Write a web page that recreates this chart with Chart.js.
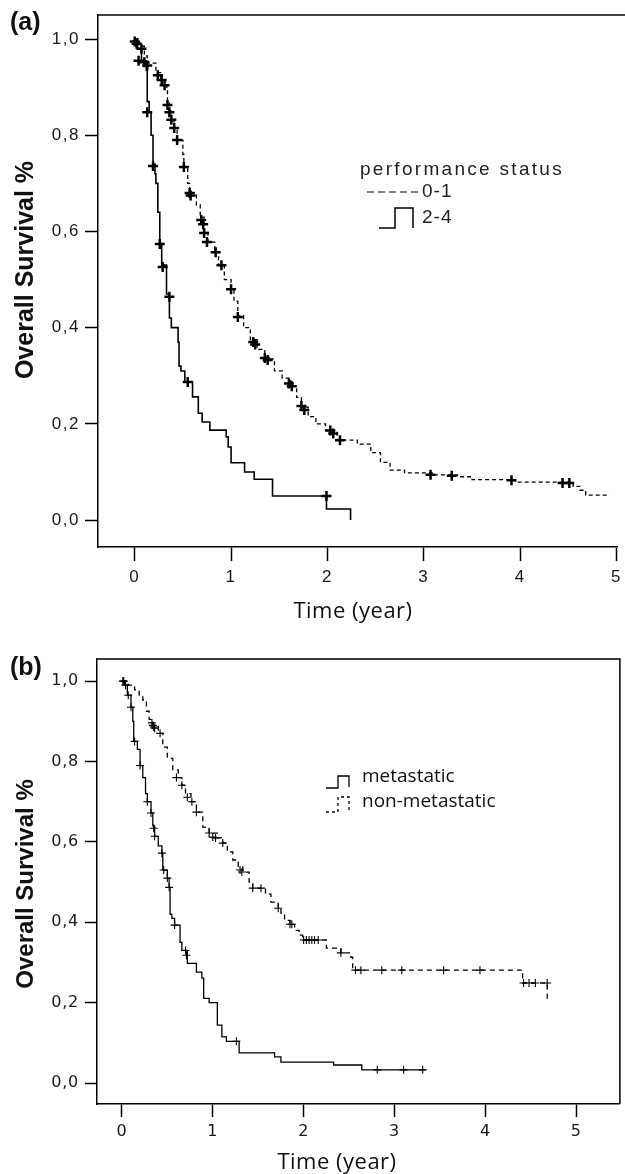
<!DOCTYPE html>
<html><head><meta charset="utf-8">
<script src="https://cdn.jsdelivr.net/npm/chart.js@4.4.1/dist/chart.umd.min.js"></script>
<style>
html,body{margin:0;padding:0;background:#fff;}
#wrapA{position:absolute;left:0;top:0;width:625px;height:640px;}
#wrapB{position:absolute;left:0;top:640px;width:625px;height:534px;}
canvas{display:block;}
</style></head><body>
<div id="wrapA"><canvas id="cA" width="625" height="640" style="width:625px;height:640px"></canvas></div>
<div id="wrapB"><canvas id="cB" width="625" height="534" style="width:625px;height:534px"></canvas></div>
<script>
// ---- shared tick labels ----
const yTickValues = [0, 0.2, 0.4, 0.6, 0.8, 1.0];
const yTickLabels = ['0,0', '0,2', '0,4', '0,6', '0,8', '1,0'];
const xTickValues = [0, 1, 2, 3, 4, 5];
const xTickLabels = ['0', '1', '2', '3', '4', '5'];

// ---- panel (a): performance status ----
const aLegendTitle = 'performance status';
const aSeriesNames = ['0-1', '2-4'];
const aPS01Time = [0, 0.05, 0.1, 0.13, 0.22, 0.27, 0.31, 0.34, 0.36, 0.38, 0.41, 0.44, 0.5, 0.51, 0.55, 0.57, 0.64, 0.68, 0.72, 0.76, 0.83, 0.87, 0.93, 1.0, 1.03, 1.07, 1.13, 1.2, 1.27, 1.35, 1.45, 1.53, 1.62, 1.68, 1.73, 1.8, 1.88, 1.98, 2.1, 2.31, 2.45, 2.55, 2.65, 2.8, 3.1, 3.35, 3.5, 3.95, 4.55, 4.62, 4.68, 4.93];
const aPS01Surv = [1.0, 0.985, 0.965, 0.95, 0.93, 0.915, 0.9, 0.87, 0.85, 0.83, 0.815, 0.79, 0.76, 0.734, 0.7, 0.68, 0.655, 0.63, 0.6, 0.578, 0.557, 0.53, 0.5, 0.48, 0.455, 0.425, 0.4, 0.375, 0.355, 0.335, 0.31, 0.295, 0.278, 0.255, 0.235, 0.215, 0.2, 0.186, 0.166, 0.158, 0.14, 0.12, 0.104, 0.098, 0.094, 0.09, 0.084, 0.079, 0.07, 0.062, 0.052, 0.052];
const aPS01CensTime = [0.02, 0.1, 0.13, 0.24, 0.28, 0.31, 0.34, 0.36, 0.38, 0.41, 0.44, 0.51, 0.57, 0.58, 0.69, 0.71, 0.72, 0.75, 0.84, 0.9, 1.0, 1.07, 1.23, 1.25, 1.35, 1.38, 1.6, 1.63, 1.73, 1.76, 2.03, 2.06, 2.13, 3.07, 3.29, 3.91, 4.44, 4.51];
const aPS01CensSurv = [0.99, 0.952, 0.945, 0.925, 0.915, 0.904, 0.863, 0.848, 0.832, 0.815, 0.79, 0.734, 0.68, 0.675, 0.624, 0.615, 0.597, 0.578, 0.557, 0.53, 0.48, 0.422, 0.37, 0.365, 0.337, 0.333, 0.284, 0.278, 0.237, 0.229, 0.186, 0.18, 0.166, 0.094, 0.092, 0.083, 0.077, 0.077];
const aPS24Time = [0, 0.03, 0.07, 0.12, 0.13, 0.15, 0.17, 0.19, 0.21, 0.22, 0.24, 0.26, 0.28, 0.33, 0.36, 0.38, 0.45, 0.46, 0.48, 0.52, 0.6, 0.66, 0.7, 0.78, 0.95, 0.97, 1.0, 1.14, 1.24, 1.43, 1.99, 2.24];
const aPS24Surv = [1.0, 0.98, 0.955, 0.935, 0.87, 0.848, 0.8, 0.74, 0.72, 0.7, 0.64, 0.575, 0.53, 0.47, 0.42, 0.4, 0.37, 0.32, 0.31, 0.287, 0.256, 0.222, 0.204, 0.187, 0.173, 0.152, 0.119, 0.1, 0.085, 0.05, 0.023, 0.0];
const aPS24CensTime = [0.0, 0.07, 0.04, 0.13, 0.19, 0.26, 0.29, 0.36, 0.55, 1.99];
const aPS24CensSurv = [0.995, 0.98, 0.955, 0.848, 0.736, 0.574, 0.526, 0.464, 0.287, 0.05];

// ---- panel (b): metastatic status ----
const bSeriesNames = ['metastatic', 'non-metastatic'];
const bMetTime = [0, 0.03, 0.06, 0.1, 0.12, 0.13, 0.17, 0.2, 0.23, 0.26, 0.28, 0.32, 0.34, 0.36, 0.4, 0.44, 0.45, 0.5, 0.52, 0.53, 0.55, 0.58, 0.64, 0.66, 0.72, 0.82, 0.88, 0.9, 0.96, 1.05, 1.1, 1.15, 1.29, 1.68, 1.75, 2.33, 2.64, 3.34];
const bMetSurv = [1.0, 0.99, 0.965, 0.935, 0.9, 0.85, 0.83, 0.79, 0.76, 0.72, 0.7, 0.672, 0.64, 0.614, 0.59, 0.572, 0.53, 0.51, 0.487, 0.42, 0.41, 0.393, 0.35, 0.33, 0.298, 0.276, 0.261, 0.211, 0.2, 0.144, 0.115, 0.104, 0.075, 0.065, 0.052, 0.045, 0.033, 0.033];
const bMetCensTime = [0.01, 0.04, 0.07, 0.1, 0.14, 0.2, 0.28, 0.32, 0.35, 0.36, 0.44, 0.46, 0.5, 0.52, 0.58, 0.7, 0.71, 1.26, 2.81, 3.1, 3.31];
const bMetCensSurv = [1.0, 0.99, 0.965, 0.935, 0.85, 0.79, 0.7, 0.672, 0.634, 0.614, 0.572, 0.53, 0.51, 0.487, 0.393, 0.33, 0.318, 0.104, 0.033, 0.033, 0.033];
const bNonTime = [0, 0.07, 0.14, 0.19, 0.23, 0.27, 0.3, 0.34, 0.4, 0.45, 0.5, 0.56, 0.62, 0.66, 0.7, 0.76, 0.82, 0.89, 0.96, 1.05, 1.11, 1.16, 1.22, 1.28, 1.33, 1.4, 1.44, 1.58, 1.64, 1.72, 1.75, 1.79, 1.85, 1.9, 1.95, 1.99, 2.25, 2.41, 2.52, 2.54, 4.41, 4.68];
const bNonSurv = [1.0, 0.99, 0.978, 0.965, 0.953, 0.925, 0.905, 0.89, 0.87, 0.836, 0.808, 0.779, 0.76, 0.741, 0.72, 0.7, 0.674, 0.637, 0.622, 0.61, 0.597, 0.575, 0.555, 0.54, 0.525, 0.5, 0.485, 0.47, 0.45, 0.435, 0.423, 0.405, 0.395, 0.38, 0.368, 0.356, 0.336, 0.324, 0.313, 0.281, 0.249, 0.2];
const bNonCensTime = [0.02, 0.33, 0.34, 0.35, 0.36, 0.42, 0.6, 0.66, 0.72, 0.77, 0.82, 0.96, 1.0, 1.03, 1.11, 1.3, 1.32, 1.44, 1.53, 1.72, 1.85, 1.87, 2.0, 2.03, 2.06, 2.09, 2.12, 2.16, 2.41, 2.57, 2.63, 2.86, 3.08, 3.54, 3.94, 4.42, 4.48, 4.55, 4.68];
const bNonCensSurv = [1.0, 0.896, 0.89, 0.886, 0.883, 0.87, 0.76, 0.741, 0.711, 0.7, 0.674, 0.622, 0.612, 0.61, 0.597, 0.53, 0.525, 0.485, 0.485, 0.435, 0.395, 0.395, 0.356, 0.356, 0.356, 0.356, 0.356, 0.356, 0.324, 0.281, 0.281, 0.281, 0.281, 0.281, 0.281, 0.249, 0.249, 0.249, 0.249];

const yAxisTitle = 'Overall Survival %';
const xAxisTitle = 'Time (year)';

function pts(ts, ss) { return ts.map((t, i) => ({x: t, y: ss[i]})); }

// ---- decoration plugin: frame lines, titles, custom legend ----
const decor = {
  id: 'decor',
  beforeDraw(chart, args, o) {
    chart.ctx.letterSpacing = o.tickSpacing || '0px';
  },
  beforeDatasetsDraw(chart, args, o) {
    const ctx = chart.ctx, a = chart.chartArea;
    ctx.save();
    ctx.letterSpacing = '0px';
    ctx.strokeStyle = '#000';
    ctx.lineWidth = 1.5;
    ctx.beginPath();
    ctx.moveTo(a.left, a.top);
    ctx.lineTo(o.topToEdge ? chart.width : a.right, a.top);
    if (o.frameRight) { ctx.lineTo(a.right, a.bottom); }
    ctx.stroke();
    ctx.restore();
  },
  afterDraw(chart, args, o) {
    const ctx = chart.ctx;
    ctx.save();
    (o.icons || []).forEach(ic => {
      ctx.save();
      ctx.strokeStyle = '#000';
      ctx.lineWidth = ic.width || 1.3;
      ctx.setLineDash(ic.dash || []);
      ctx.beginPath();
      ic.pts.forEach((p, i) => i ? ctx.lineTo(p[0], p[1]) : ctx.moveTo(p[0], p[1]));
      ctx.stroke();
      ctx.restore();
    });
    (o.texts || []).forEach(t => {
      ctx.save();
      ctx.letterSpacing = t.spacing || '0px';
      ctx.font = t.font;
      ctx.fillStyle = t.color || '#111';
      ctx.textAlign = t.align || 'left';
      ctx.textBaseline = 'alphabetic';
      ctx.translate(t.x, t.y);
      if (t.rotate) ctx.rotate(t.rotate);
      ctx.fillText(t.text, 0, 0);
      ctx.restore();
    });
    ctx.restore();
    ctx.letterSpacing = '0px';
  }
};

function axisCfg(kind, min, max, size, font, pad, tickLen) {
  const isX = kind === 'x';
  const vals = isX ? xTickValues : yTickValues;
  const labs = isX ? xTickLabels : yTickLabels;
  return {
    type: 'linear', min: min, max: max,
    afterBuildTicks: s => { s.ticks = vals.map(v => ({value: v})); },
    afterFit: s => {
      if (isX) s.height = size; else s.width = size;
      s.paddingLeft = 0; s.paddingRight = 0; s.paddingTop = 0; s.paddingBottom = 0;
    },
    ticks: {callback: (v, i) => labs[i], font: font, color: '#1a1a1a', padding: pad, autoSkip: false, maxRotation: 0, minRotation: 0},
    grid: {display: true, drawOnChartArea: false, drawTicks: true, tickLength: tickLen, tickWidth: 1.5, tickColor: '#000', color: '#000'},
    border: {display: true, color: '#000', width: 1.5}
  };
}

// ---- chart (a) ----
const fontA = {family: '"Liberation Sans", Arial, sans-serif', size: 17};
new Chart(document.getElementById('cA'), {
  type: 'scatter',
  data: {datasets: [
    {label: aSeriesNames[0], data: pts(aPS01Time, aPS01Surv), showLine: true, stepped: 'before', borderColor: '#000', borderWidth: 1.3, borderDash: [4, 3], pointRadius: 0, fill: false},
    {label: aSeriesNames[1], data: pts(aPS24Time, aPS24Surv), showLine: true, stepped: 'before', borderColor: '#000', borderWidth: 1.6, pointRadius: 0, fill: false},
    {label: aSeriesNames[0] + ' censored', data: pts(aPS01CensTime, aPS01CensSurv), showLine: false, pointStyle: 'cross', pointRadius: 5, pointBorderWidth: 2.5, pointBorderColor: '#000', borderColor: '#000'},
    {label: aSeriesNames[1] + ' censored', data: pts(aPS24CensTime, aPS24CensSurv), showLine: false, pointStyle: 'cross', pointRadius: 5, pointBorderWidth: 2.5, pointBorderColor: '#000', borderColor: '#000'}
  ]},
  options: {
    responsive: false, animation: false, devicePixelRatio: 1, events: [],
    layout: {padding: {left: 0, right: 3, top: 15, bottom: 0}},
    plugins: {
      legend: {display: false}, tooltip: {enabled: false},
      decor: {
        tickSpacing: '1.5px', topToEdge: true, frameRight: false,
        texts: [
          {text: '(a)', x: 10, y: 30, font: 'bold 25px "Liberation Sans", Arial, sans-serif'},
          {text: yAxisTitle, x: 33, y: 270, rotate: -Math.PI / 2, align: 'center', font: 'bold 25px "Liberation Sans", Arial, sans-serif'},
          {text: xAxisTitle, x: 353, y: 618, align: 'center', spacing: '0.5px', font: '22px "Open Sans", sans-serif'},
          {text: aLegendTitle, x: 360, y: 175, spacing: '2.3px', font: '19px "Liberation Sans", Arial, sans-serif', color: '#222'},
          {text: aSeriesNames[0], x: 422, y: 197, spacing: '1px', font: '19px "Liberation Sans", Arial, sans-serif', color: '#222'},
          {text: aSeriesNames[1], x: 422, y: 223, spacing: '1px', font: '19px "Liberation Sans", Arial, sans-serif', color: '#222'}
        ],
        icons: [
          {pts: [[367, 192], [421, 192]], dash: [7, 4], width: 1.2},
          {pts: [[379, 228], [395, 228], [395, 208], [413, 208], [413, 228]], width: 1.5}
        ]
      }
    },
    scales: {
      x: axisCfg('x', -0.381, 5.01, 93, fontA, 6, 14),
      y: axisCfg('y', -0.056, 1.05, 98, fontA, 5, 13)
    }
  },
  plugins: [decor]
});

// ---- chart (b) ----
const fontB = {family: '"DejaVu Sans", Verdana, sans-serif', size: 16};
new Chart(document.getElementById('cB'), {
  type: 'scatter',
  data: {datasets: [
    {label: bSeriesNames[0], data: pts(bMetTime, bMetSurv), showLine: true, stepped: 'before', borderColor: '#000', borderWidth: 1.3, pointRadius: 0, fill: false},
    {label: bSeriesNames[1], data: pts(bNonTime, bNonSurv), showLine: true, stepped: 'before', borderColor: '#000', borderWidth: 1.3, borderDash: [5, 4], pointRadius: 0, fill: false},
    {label: bSeriesNames[0] + ' censored', data: pts(bMetCensTime, bMetCensSurv), showLine: false, pointStyle: 'cross', pointRadius: 4, pointBorderWidth: 1.1, pointBorderColor: '#000', borderColor: '#000'},
    {label: bSeriesNames[1] + ' censored', data: pts(bNonCensTime, bNonCensSurv), showLine: false, pointStyle: 'cross', pointRadius: 4, pointBorderWidth: 1.1, pointBorderColor: '#000', borderColor: '#000'}
  ]},
  options: {
    responsive: false, animation: false, devicePixelRatio: 1, events: [],
    layout: {padding: {left: 0, right: 3, top: 19, bottom: 0}},
    plugins: {
      legend: {display: false}, tooltip: {enabled: false},
      decor: {
        tickSpacing: '0.8px', topToEdge: false, frameRight: true,
        texts: [
          {text: '(b)', x: 10, y: 35, font: 'bold 25px "Liberation Sans", Arial, sans-serif'},
          {text: yAxisTitle, x: 33, y: 244, rotate: -Math.PI / 2, align: 'center', font: 'bold 24px "Liberation Sans", Arial, sans-serif'},
          {text: xAxisTitle, x: 337, y: 529, align: 'center', spacing: '0.5px', font: '22px "Open Sans", sans-serif'},
          {text: bSeriesNames[0], x: 362, y: 142, font: '19px "Open Sans", sans-serif', color: '#111'},
          {text: bSeriesNames[1], x: 362, y: 167, font: '19px "Open Sans", sans-serif', color: '#111'}
        ],
        icons: [
          {pts: [[326, 148], [338, 148], [338, 136], [349, 136], [349, 147]], width: 1.3},
          {pts: [[326, 172], [338, 172], [338, 157], [349, 157], [349, 170]], dash: [3, 3], width: 1.3}
        ]
      }
    },
    scales: {
      x: axisCfg('x', -0.274, 5.48, 70, fontB, 5, 13),
      y: axisCfg('y', -0.052, 1.055, 97, fontB, 6, 12)
    }
  },
  plugins: [decor]
});
</script>
</body></html>
